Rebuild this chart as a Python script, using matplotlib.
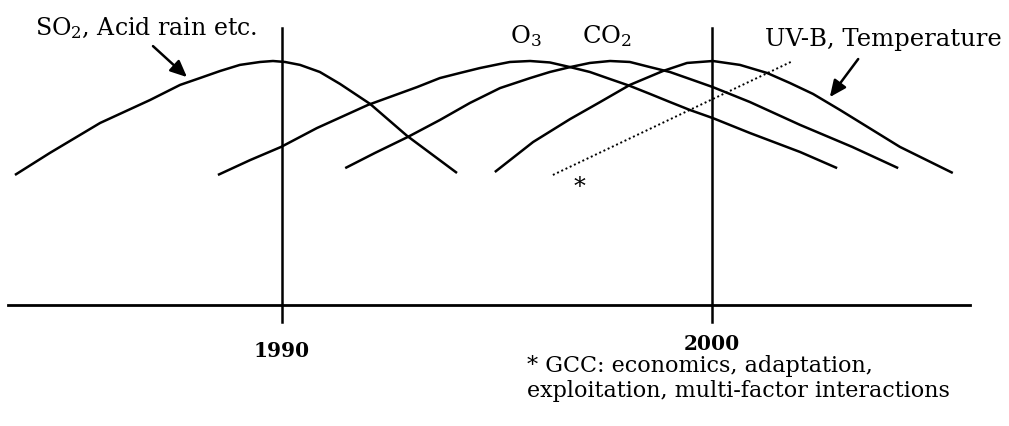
import matplotlib.pyplot as plt

plt.rcParams["font.family"] = ["DejaVu Serif"]
plt.rcParams["mathtext.fontset"] = "dejavuserif"

# Криві (роки, відносна інтенсивність)
so2_years = [1983.79, 1984.60, 1985.77, 1986.93, 1987.63, 1988.09, 1988.56, 1989.02, 1989.49,
             1989.79, 1990.07, 1990.42, 1990.88, 1991.35, 1992.05, 1992.91, 1994.07]
so2_vals = [0.533, 0.623, 0.746, 0.840, 0.902, 0.930, 0.959, 0.984, 0.996,
            1.000, 0.996, 0.984, 0.955, 0.906, 0.824, 0.693, 0.541]

o3_years = [1988.51, 1989.26, 1989.98, 1990.81, 1992.00, 1993.14, 1993.67, 1994.14, 1994.60,
            1995.07, 1995.30, 1995.77, 1996.23, 1996.70, 1997.16, 1997.63, 1998.09, 1998.56,
            1999.02, 1999.49, 2000.02, 2000.88, 2002.05, 2002.91]
o3_vals = [0.533, 0.594, 0.648, 0.725, 0.820, 0.893, 0.930, 0.951, 0.971,
           0.988, 0.996, 1.000, 0.994, 0.975, 0.955, 0.926, 0.898, 0.865,
           0.832, 0.799, 0.766, 0.705, 0.627, 0.561]

co2_years = [1991.47, 1992.16, 1992.93, 1993.67, 1994.37, 1995.07, 1995.77, 1996.23, 1996.70,
             1997.16, 1997.63, 1998.09, 1998.56, 1999.02, 1999.49, 2000.02, 2000.88, 2002.05,
             2003.26, 2004.33]
co2_vals = [0.561, 0.623, 0.689, 0.758, 0.828, 0.889, 0.930, 0.955, 0.975,
            0.992, 1.000, 0.996, 0.975, 0.955, 0.926, 0.893, 0.832, 0.738,
            0.648, 0.561]

uvb_years = [1994.95, 1995.84, 1996.70, 1997.40, 1998.09, 1998.86, 1999.42, 2000.02,
             2000.65, 2001.28, 2001.81, 2002.35, 2002.98, 2004.37, 2005.60]
uvb_vals = [0.545, 0.668, 0.762, 0.832, 0.902, 0.959, 0.992, 1.000,
            0.984, 0.951, 0.910, 0.865, 0.799, 0.648, 0.541]

# Пунктир (GCC *)
gcc_years = [1996.30, 2001.88]
gcc_vals = [0.533, 1.000]

# Вісь часу та позначки років
axis_years = [1983.63, 2006.0]
tick_years = [1990, 2000]
tick_labels = ["1990", "2000"]

fig = plt.figure(figsize=(10.09, 4.26), dpi=100)
ax = fig.add_axes([0, 0, 1, 1])
ax.set_xlim(1983.442, 2006.907)
ax.set_ylim(-0.4959, 1.25)
ax.axis("off")

lw = 1.8
for xs, ys in [(so2_years, so2_vals), (o3_years, o3_vals), (co2_years, co2_vals), (uvb_years, uvb_vals)]:
    ax.plot(xs, ys, color="black", lw=lw, solid_joinstyle="round", solid_capstyle="butt")

ax.plot(gcc_years, gcc_vals, color="black", lw=1.4, linestyle=(0, (1, 1.4)))

# вісь та вертикальні лінії
ax.plot(axis_years, [0, 0], color="black", lw=2.0)
for yr in tick_years:
    ax.plot([yr, yr], [-0.070, 1.135], color="black", lw=1.8)

# підписи років
ax.text(tick_years[0], -0.189, tick_labels[0], ha="center", va="center", fontsize=14.5, fontweight="bold")
ax.text(tick_years[1], -0.160, tick_labels[1], ha="center", va="center", fontsize=14.5, fontweight="bold")

# підписи кривих
ax.text(1984.26, 1.107, r"SO$_2$, Acid rain etc.", ha="left", va="baseline", fontsize=17)
ax.text(1995.30, 1.074, r"O$_3$", ha="left", va="baseline", fontsize=17.5)
ax.text(1996.98, 1.074, r"CO$_2$", ha="left", va="baseline", fontsize=17.5)
ax.text(2001.23, 1.061, "UV-B, Temperature", ha="left", va="baseline", fontsize=17.5)
ax.text(1996.93, 0.48, "*", ha="center", va="center", fontsize=17)

# стрілки
arrow = dict(arrowstyle="-|>,head_length=1.0,head_width=0.45", color="black", lw=1.8,
             shrinkA=0, shrinkB=0)
ax.annotate("", xy=(1987.79, 0.934), xytext=(1987.0, 1.061), arrowprops=arrow)
ax.annotate("", xy=(2002.74, 0.852), xytext=(2003.40, 1.008), arrowprops=arrow)

# примітка
ax.text(1995.70, -0.275, "* GCC: economics, adaptation,", ha="left", va="baseline", fontsize=16)
ax.text(1995.70, -0.377, "exploitation, multi-factor interactions", ha="left", va="baseline", fontsize=16)

fig.savefig("out.png", dpi=100, facecolor="white")
